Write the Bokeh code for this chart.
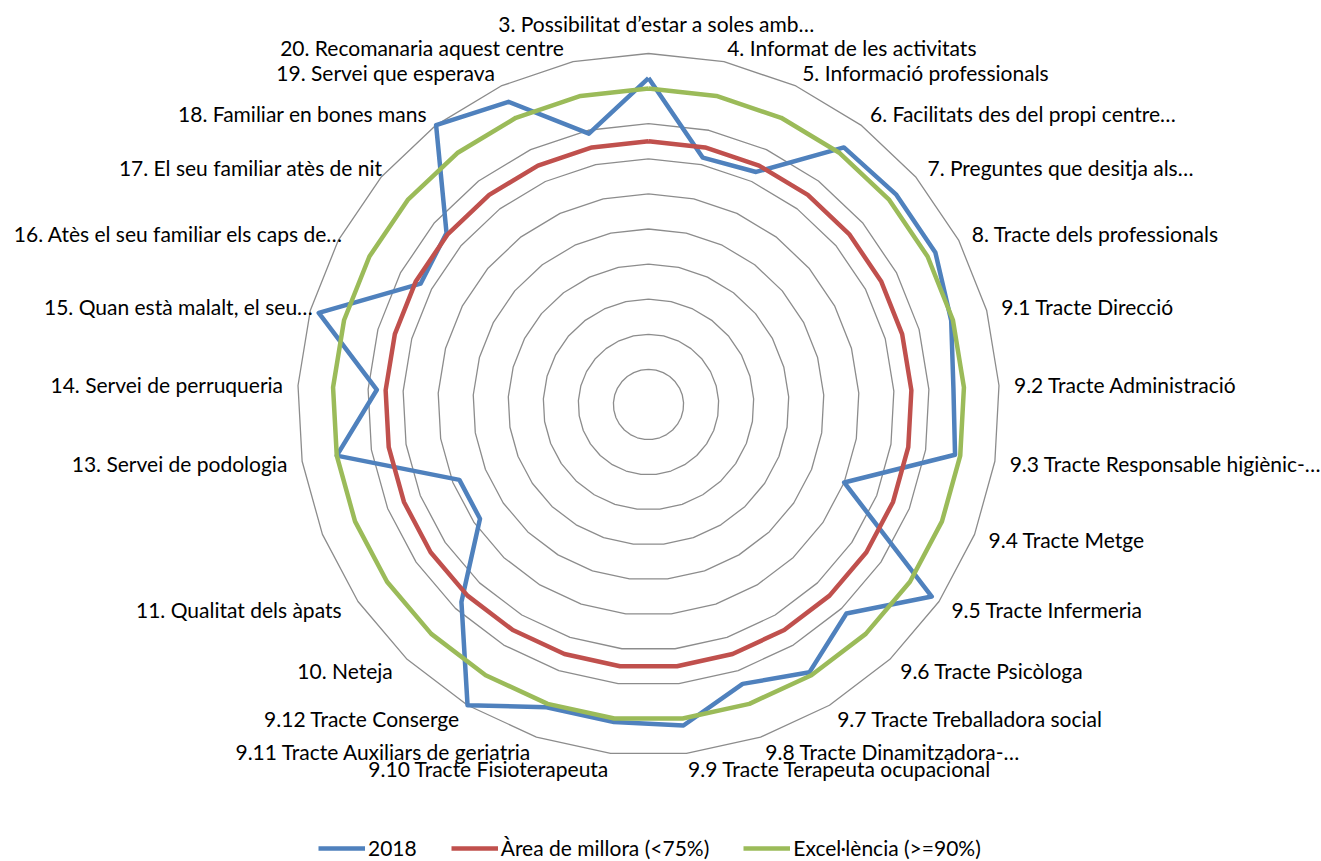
import numpy as np
from bokeh.plotting import figure
from bokeh.models import ColumnDataSource, Legend, LegendItem, Range1d
from bokeh.core.properties import value
from bokeh.embed import file_html
from bokeh.resources import INLINE

categories = [
    "3. Possibilitat d’estar a soles amb…",
    "4. Informat de les activitats",
    "5. Informació professionals",
    "6. Facilitats des del propi centre…",
    "7. Preguntes que desitja als…",
    "8. Tracte dels professionals",
    "9.1 Tracte Direcció",
    "9.2 Tracte Administració",
    "9.3 Tracte Responsable higiènic-…",
    "9.4 Tracte Metge",
    "9.5 Tracte Infermeria",
    "9.6 Tracte Psicòloga",
    "9.7 Tracte Treballadora social",
    "9.8 Tracte Dinamitzadora-…",
    "9.9 Tracte Terapeuta ocupacional",
    "9.10 Tracte Fisioterapeuta",
    "9.11 Tracte Auxiliars de geriatria",
    "9.12 Tracte Conserge",
    "10. Neteja",
    "11. Qualitat dels àpats",
    "",
    "13. Servei de podologia",
    "14. Servei de perruqueria",
    "15. Quan està malalt, el seu…",
    "16. Atès el seu familiar els caps de…",
    "17. El seu familiar atès de nit",
    "18. Familiar en bones mans",
    "19. Servei que esperava",
    "20. Recomanaria aquest centre",
]

serie_2018 = [0.93, 0.72, 0.73, 0.92, 0.925, 0.925, 0.895, 0.87, 0.885, 0.60,
              0.975, 0.82, 0.89, 0.84, 0.92, 0.91, 0.91, 1.00, 0.775, 0.58,
              0.58, 0.90, 0.775, 0.975, 0.735, 0.755, 1.00, 0.95, 0.79]
area_millora = [0.75, 0.75, 0.75, 0.75, 0.75, 0.75, 0.75, 0.75, 0.75, 0.75,
                0.75, 0.75, 0.75, 0.75, 0.75, 0.75, 0.75, 0.75, 0.75, 0.75,
                0.75, 0.75, 0.75, 0.75, 0.75, 0.75, 0.75, 0.75, 0.75]
excellencia = [0.90, 0.90, 0.90, 0.90, 0.90, 0.90, 0.90, 0.90, 0.90, 0.90,
               0.90, 0.90, 0.90, 0.90, 0.90, 0.90, 0.90, 0.90, 0.90, 0.90,
               0.90, 0.90, 0.90, 0.90, 0.90, 0.90, 0.90, 0.90, 0.90]
grid_levels = [0.1, 0.2, 0.3, 0.4, 0.5, 0.6, 0.7, 0.8, 0.9, 1.0]

series_names = ["2018", "Àrea de millora (<75%)", "Excel·lència (>=90%)"]
series_colors = ["#4F81BD", "#C0504D", "#9BBB59"]

# layout (pixels)
W, H = 1320, 860
PX = 351.0             # pixels per unit of value
CX, CY = 648.0, 404.0  # centre inside the figure, from top-left
FONT = "Lato"
FSIZE = "21px"
# horizontal nudges (px) of some category labels, as the original layout does
label_nudge = {0: 8, 23: 17, 24: 18, 25: 13, 28: -6, 19: -4, 18: -4}

n = len(categories)
theta = np.arange(n) * 2 * np.pi / n
sx, cy_ = np.sin(theta), np.cos(theta)

p = figure(width=W, height=H, output_backend="svg", toolbar_location=None,
           x_range=Range1d(-CX / PX, (W - CX) / PX),
           y_range=Range1d(-(H - CY) / PX, CY / PX),
           x_axis_type=None, y_axis_type=None, min_border=0,
           outline_line_color=None, background_fill_color="white",
           border_fill_color="white")
p.xgrid.visible = False
p.ygrid.visible = False

# grid rings
rx, ry = [], []
for lv in grid_levels:
    xs = list(lv * sx) + [lv * sx[0]]
    ys = list(lv * cy_) + [lv * cy_[0]]
    rx.append(xs)
    ry.append(ys)
p.multi_line(rx, ry, line_color="#8C8C8C", line_width=1.3)

# series
renderers = []
for vals, col in zip([serie_2018, area_millora, excellencia], series_colors):
    v = np.array(vals)
    xs = list(v * sx) + [v[0] * sx[0]]
    ys = list(v * cy_) + [v[0] * cy_[0]]
    r = p.line(xs, ys, line_color=col, line_width=4.5, line_join="round")
    renderers.append(r)

# category labels
off = np.full(n, 15.0 / PX)
off[0] = 30.0 / PX
lr = 1.0 + off
lx, ly = lr * sx, lr * cy_
for i, dx in label_nudge.items():
    lx[i] += dx / PX
groups = {"left": [], "right": [], "center": []}
for i in range(n):
    if sx[i] > 0.01:
        groups["left"].append(i)
    elif sx[i] < -0.01:
        groups["right"].append(i)
    else:
        groups["center"].append(i)
for al, idx in groups.items():
    src = ColumnDataSource(dict(x=[lx[i] for i in idx], y=[ly[i] for i in idx],
                                t=[categories[i] for i in idx]))
    p.text(x="x", y="y", text="t", source=src, text_align=al,
           text_baseline="middle", text_font=value(FONT),
           text_font_size=FSIZE, text_color="#000000")

legend = Legend(items=[LegendItem(label=nm, renderers=[r])
                       for nm, r in zip(series_names, renderers)],
                orientation="horizontal", location=(318, 0),
                label_text_font=FONT, label_text_font_size=FSIZE,
                label_text_color="#000000",
                glyph_width=47, glyph_height=20, label_standoff=3,
                spacing=34, padding=0, margin=0,
                border_line_color=None, background_fill_alpha=0)
p.add_layout(legend)

open("out.html", "w").write(file_html(p, INLINE))
